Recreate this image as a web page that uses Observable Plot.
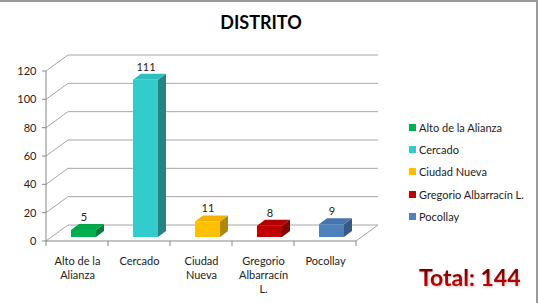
<!DOCTYPE html>
<html>
<head>
<meta charset="utf-8">
<script src="https://cdn.jsdelivr.net/npm/d3@7"></script>
<script src="https://cdn.jsdelivr.net/npm/@observablehq/plot@0.6"></script>
<style>
  body { margin: 0; background: #fff; }
  #wrap { position: relative; width: 538px; height: 303px; overflow: hidden; background: #fff; font-family: Lato, "Open Sans", sans-serif; }
  #frame { position: absolute; left: 0; top: 0; width: 538px; height: 303px; box-sizing: border-box; border-top: 2px solid #9a9a9a; border-right: 2px solid #9a9a9a; pointer-events: none; }
  #chart { position: absolute; left: 0; top: 0; }
  #title { position: absolute; top: 12px; left: 261px; transform: translateX(-50%); font-weight: bold; font-size: 18px; line-height: 20px; color: #000; white-space: nowrap; }
  #legend { position: absolute; left: 409px; top: 116px; }
  .item { display: flex; align-items: center; height: 22.3px; font-size: 11px; color: #222; white-space: nowrap; }
  .sw { width: 7px; height: 7px; margin-right: 3px; }
  #total { position: absolute; left: 419px; top: 266px; font-weight: bold; font-size: 23px; line-height: 23px; white-space: nowrap;
    background: linear-gradient(#5c0000, #e00000); -webkit-background-clip: text; background-clip: text; color: transparent;
    filter: drop-shadow(1px 1px 1px rgba(0,0,0,0.25)); }
</style>
</head>
<body>
<div id="wrap">
  <div id="chart"></div>
  <div id="title"></div>
  <div id="legend"></div>
  <div id="total"></div>
  <div id="frame"></div>
</div>
<script>
const chartTitle = "DISTRITO";
const categories = ["Alto de la Alianza", "Cercado", "Ciudad Nueva", "Gregorio Albarracín L.", "Pocollay"];
const counts = [5, 111, 11, 8, 9];
const tickLabels = ["Alto de la\nAlianza", "Cercado", "Ciudad\nNueva", "Gregorio\nAlbarracín\nL.", "Pocollay"];
const yTicks = [0, 20, 40, 60, 80, 100, 120];
const frontColors = ["#00b050", "#33cccc", "#ffc000", "#c00000", "#4f81bd"];
const topColors = ["#00a64a", "#2fbdbd", "#f0b400", "#b00000", "#4675ad"];
const sideColors = ["#00803a", "#218585", "#b38600", "#860000", "#365a86"];
const totalLabel = "Total: ";

function scene(index, scales, channels, dimensions) {
  const x = scales.x, y = scales.y;
  const bw = x(categories[1]) - x(categories[0]);
  const xL = x(categories[0]);
  const xR = x(categories[categories.length - 1]) + bw;
  const yb = y(0);
  const DX = 22, DY = -16;
  const g = d3.create("svg:g");
  for (const t of yTicks) {
    const yy = y(t);
    g.append("polyline")
      .attr("points", `${xL},${yy} ${xL + DX},${yy + DY} ${xR + DX},${yy + DY}`)
      .attr("fill", "none").attr("stroke", "#a6a6a6").attr("stroke-width", 1);
  }
  g.append("line").attr("x1", xR).attr("y1", yb).attr("x2", xR + DX).attr("y2", yb + DY)
    .attr("stroke", "#a6a6a6");
  const axisColor = "#868686";
  g.append("line").attr("x1", xL).attr("x2", xL).attr("y1", y(d3.max(yTicks))).attr("y2", yb).attr("stroke", axisColor);
  g.append("line").attr("x1", xL).attr("x2", xR).attr("y1", yb).attr("y2", yb).attr("stroke", axisColor);
  for (const t of yTicks) {
    g.append("line").attr("x1", xL - 4).attr("x2", xL).attr("y1", y(t)).attr("y2", y(t)).attr("stroke", axisColor);
  }
  for (let i = 0; i <= categories.length; i++) {
    const xx = xL + i * bw;
    g.append("line").attr("x1", xx).attr("x2", xx).attr("y1", yb).attr("y2", yb + 5).attr("stroke", axisColor);
  }
  const bdx = 8, bdy = -6, fw = 25;
  categories.forEach((c, i) => {
    const cx = x(c) + bw / 2;
    const L = cx - 6, R = L + fw;
    const b = yb - 4;
    const tp = y(counts[i]) - 4;
    g.append("polygon")
      .attr("points", `${R},${tp} ${R + bdx},${tp + bdy} ${R + bdx},${b + bdy} ${R},${b}`)
      .attr("fill", sideColors[i]);
    g.append("polygon")
      .attr("points", `${L},${tp} ${L + bdx},${tp + bdy} ${R + bdx},${tp + bdy} ${R},${tp}`)
      .attr("fill", topColors[i]);
    g.append("rect").attr("x", L).attr("y", tp).attr("width", fw).attr("height", b - tp)
      .attr("fill", frontColors[i]);
    g.append("text").attr("x", cx + 7).attr("y", tp + bdy - 3)
      .attr("text-anchor", "middle").attr("fill", "#222").attr("font-size", 11)
      .text(counts[i]);
  });
  return g.node();
}

const chart = Plot.plot({
  width: 538,
  height: 303,
  marginLeft: 45,
  marginRight: 180.5,
  marginTop: 71,
  marginBottom: 62,
  style: { fontFamily: "Lato, 'Open Sans', sans-serif", fontSize: "11px", color: "#222", background: "transparent", overflow: "visible" },
  x: { type: "band", domain: categories, padding: 0, axis: null },
  y: { domain: [0, 120], label: null },
  marks: [
    scene,
    Plot.axisY({ ticks: yTicks, tickSize: 0, tickPadding: 9, fontSize: 11, fill: "#222", label: null }),
    Plot.text(categories, {
      x: d => d,
      text: (d, i) => tickLabels[i],
      frameAnchor: "bottom",
      lineAnchor: "top",
      dy: 13,
      lineHeight: 1.3,
      fontSize: 11,
      fill: "#222"
    })
  ]
});
document.getElementById("chart").appendChild(chart);

document.getElementById("title").textContent = chartTitle;
const legend = d3.select("#legend");
categories.forEach((c, i) => {
  const it = legend.append("div").attr("class", "item");
  it.append("div").attr("class", "sw").style("background", frontColors[i]);
  it.append("span").text(c);
});
document.getElementById("total").textContent = totalLabel + d3.sum(counts);
</script>
</body>
</html>
